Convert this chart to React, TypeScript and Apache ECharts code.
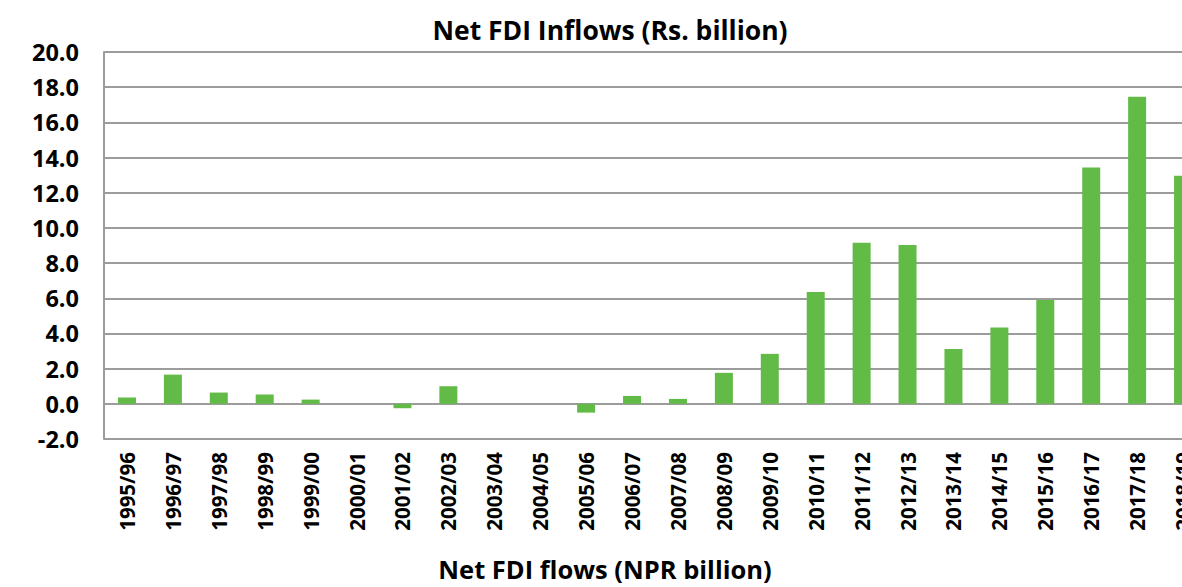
import React, { useEffect, useRef } from "react";
import * as echarts from "echarts";

const categories = [
  "1995/96", "1996/97", "1997/98", "1998/99", "1999/00", "2000/01",
  "2001/02", "2002/03", "2003/04", "2004/05", "2005/06", "2006/07",
  "2007/08", "2008/09", "2009/10", "2010/11", "2011/12", "2012/13",
  "2013/14", "2014/15", "2015/16", "2016/17", "2017/18", "2018/19",
];
const netFdi = [
  0.36, 1.66, 0.64, 0.53, 0.24, 0.0,
  -0.25, 1.0, 0.0, 0.0, -0.5, 0.45,
  0.28, 1.76, 2.84, 6.36, 9.15, 9.03,
  3.12, 4.34, 5.9, 13.43, 17.46, 12.97,
];
const chartTitle = "Net FDI Inflows (Rs. billion)";
const xTitle = "Net FDI flows (NPR billion)";
const yMin = -2;
const yMax = 20;
const yStep = 2;

const FONT = "Open Sans";

export default function App() {
  const ref = useRef<HTMLDivElement>(null);
  useEffect(() => {
    if (!ref.current) return;
    const chart = echarts.init(ref.current, null, { renderer: "svg" });
    chart.setOption({
      animation: false,
      backgroundColor: "#ffffff",
      textStyle: { fontFamily: FONT },
      grid: { left: 104, top: 52, width: 1102, height: 387, containLabel: false },
      graphic: [
        {
          type: "text",
          x: 610,
          y: 30,
          style: {
            text: chartTitle,
            fontFamily: FONT,
            fontWeight: "bold",
            fontSize: 26.5,
            fill: "#000",
            textAlign: "center",
            textVerticalAlign: "middle",
          },
        },
        {
          type: "text",
          x: 605,
          y: 569,
          style: {
            text: xTitle,
            fontFamily: FONT,
            fontWeight: "bold",
            fontSize: 25.5,
            fill: "#000",
            textAlign: "center",
            textVerticalAlign: "middle",
          },
        },
      ],
      xAxis: {
        type: "category",
        data: categories,
        axisLine: { show: false, onZero: false },
        axisTick: { show: false },
        axisLabel: {
          rotate: 90,
          margin: 13,
          interval: 0,
          fontFamily: FONT,
          fontWeight: "bold",
          fontSize: 20.5,
          color: "#000",
        },
        splitLine: { show: false },
      },
      yAxis: {
        type: "value",
        min: yMin,
        max: yMax,
        interval: yStep,
        axisLine: { show: true, lineStyle: { color: "#9C9C9C", width: 2 } },
        axisTick: { show: false },
        axisLabel: {
          margin: 25,
          fontFamily: FONT,
          fontWeight: "bold",
          fontSize: 23.5,
          color: "#000",
          formatter: (v: number) => v.toFixed(1),
        },
        splitLine: { show: true, lineStyle: { color: "#9C9C9C", width: 2 } },
      },
      series: [
        {
          type: "bar",
          data: netFdi,
          barWidth: 18,
          itemStyle: { color: "#62BB46" },
        },
      ],
    });
    return () => chart.dispose();
  }, []);
  return (
    <div
      style={{
        position: "fixed",
        left: 0,
        top: 0,
        width: 1182,
        height: 587,
        overflow: "hidden",
        background: "#fff",
      }}
    >
      <div ref={ref} style={{ width: 1240, height: 587 }} />
    </div>
  );
}
